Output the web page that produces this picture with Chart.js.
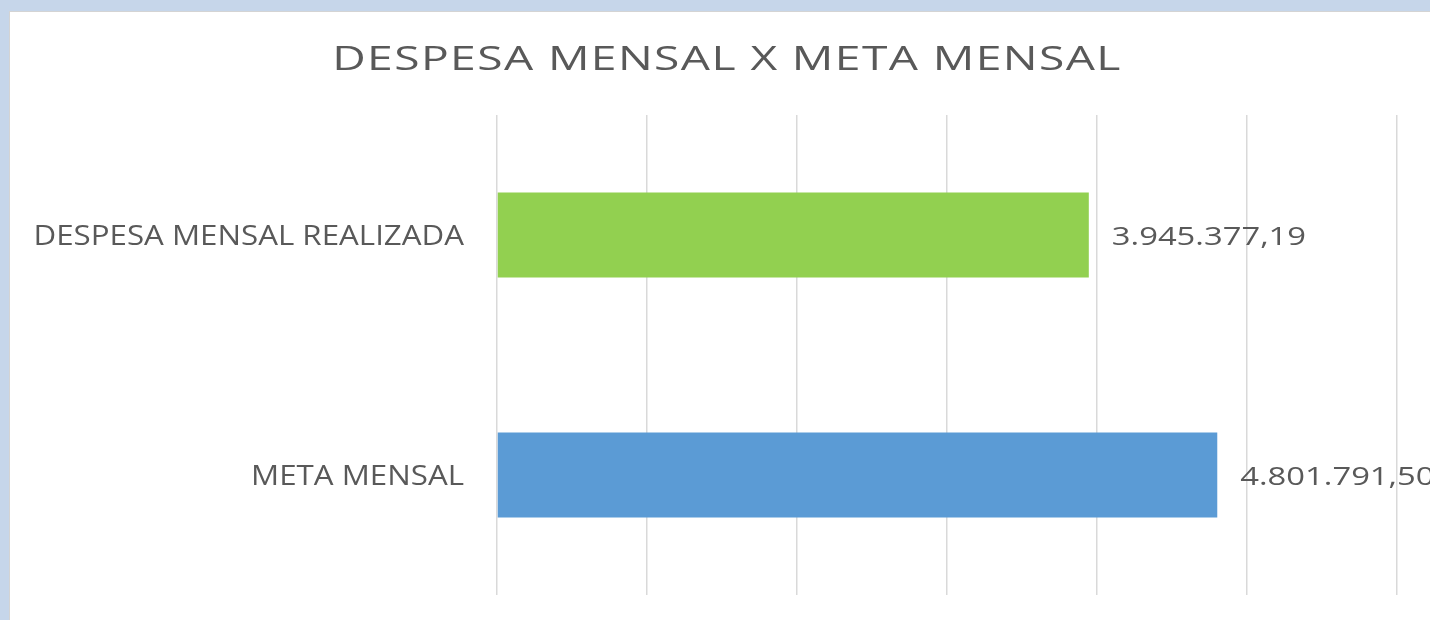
<!DOCTYPE html>
<html>
<head>
<meta charset="utf-8">
<script src="https://cdn.jsdelivr.net/npm/chart.js@4"></script>
<style>
  html, body { margin: 0; padding: 0; }
  body { width: 1430px; height: 620px; overflow: hidden; background: #c6d6ea; position: relative; }
  #panel { position: absolute; left: 9px; top: 11px; width: 1440px; height: 620px; background: #fff; border: 1px solid #d4d4d4; }
  #chart-wrap { position: absolute; left: 0; top: 0; width: 1434px; height: 608px; }
</style>
</head>
<body>
<div id="panel">
  <div id="chart-wrap"><canvas id="mainChart"></canvas></div>
</div>
<script>
const chartTitle = 'DESPESA MENSAL X META MENSAL';
const categories = ['DESPESA MENSAL REALIZADA', 'META MENSAL'];
const values = [3945377.19, 4801791.50];
const barColors = ['#92d050', '#5b9bd5'];
const axisMax = 6000000;
const axisStep = 1000000;

const textColor = '#595959';
const fontFamily = '"Open Sans", sans-serif';

function formatBR(v) {
    return v.toLocaleString('pt-BR', { minimumFractionDigits: 2, maximumFractionDigits: 2 });
}

// the original text is wide, so draw it stretched horizontally
function wideText(ctx, text, x, y, align, sx, spacing) {
    ctx.save();
    ctx.translate(x, y);
    ctx.scale(sx, 1);
    ctx.letterSpacing = (spacing || 0) + 'px';
    ctx.textAlign = align;
    ctx.textBaseline = 'alphabetic';
    ctx.fillText(text, 0, 0);
    ctx.restore();
}

const textPlugin = {
    id: 'textPlugin',
    afterDraw(chart) {
        const ctx = chart.ctx;
        const yScale = chart.scales.y;
        const meta = chart.getDatasetMeta(0);
        ctx.save();
        ctx.fillStyle = textColor;

        // title
        ctx.font = '33px ' + fontFamily;
        wideText(ctx, chartTitle, chart.width / 2, 58, 'center', 1.40, 1);

        // category labels
        ctx.font = '26.5px ' + fontFamily;
        categories.forEach((c, i) => {
            const y = yScale.getPixelForValue(i);
            wideText(ctx, c, chart.chartArea.left - 33, y + 9.5, 'right', 1.18);
        });

        // value labels
        ctx.font = '25.6px ' + fontFamily;
        meta.data.forEach((bar, i) => {
            wideText(ctx, formatBR(values[i]), bar.x + 23, bar.y + 9.5, 'left', 1.28);
        });
        ctx.restore();
    }
};

const ctx = document.getElementById('mainChart').getContext('2d');
new Chart(ctx, {
    type: 'bar',
    data: {
        labels: categories,
        datasets: [{
            data: values,
            backgroundColor: barColors,
            borderWidth: 0,
            barPercentage: 0.354,
            categoryPercentage: 1
        }]
    },
    plugins: [textPlugin],
    options: {
        indexAxis: 'y',
        responsive: true,
        maintainAspectRatio: false,
        animation: false,
        layout: { padding: { top: 103, right: 47, bottom: 25, left: 0 } },
        scales: {
            x: {
                min: 0,
                max: axisMax,
                ticks: { display: false, stepSize: axisStep },
                grid: { color: '#d9d9d9', lineWidth: 1.5, drawTicks: false },
                border: { display: false },
                afterFit(scale) { scale.height = 0; }
            },
            y: {
                ticks: { display: false },
                grid: { display: false, drawTicks: false },
                border: { display: false },
                afterFit(scale) { scale.width = 487; }
            }
        },
        plugins: {
            legend: { display: false },
            tooltip: { enabled: false },
            title: { display: false }
        }
    }
});
</script>
</body>
</html>
